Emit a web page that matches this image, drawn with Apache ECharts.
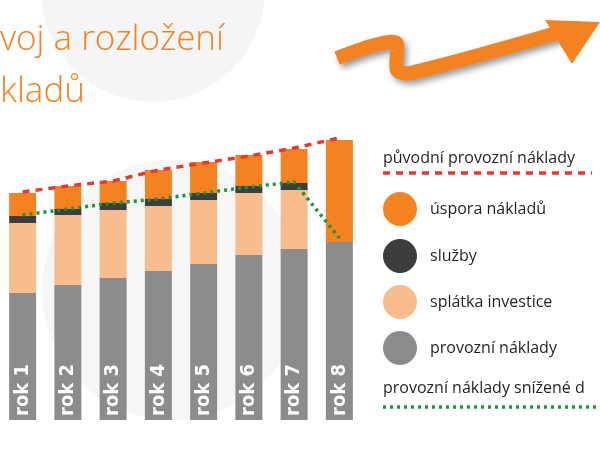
<!DOCTYPE html>
<html>
<head>
<meta charset="utf-8">
<script src="https://cdn.jsdelivr.net/npm/echarts@6/dist/echarts.min.js"></script>
<style>html,body{margin:0;padding:0;background:#fff}#graph1{width:600px;height:450px}</style>
</head>
<body>
<div id="graph1"></div>
<script>
const years = ['rok 1', 'rok 2', 'rok 3', 'rok 4', 'rok 5', 'rok 6', 'rok 7', 'rok 8'];
const provozni = [127, 135, 142, 149, 156, 165, 171, 178];
const splatka = [70, 70, 68, 65, 64, 62, 59, 0];
const sluzby = [7, 6, 7, 7, 7, 7, 7, 0];
const uspora = [23, 23, 22, 29, 31, 31, 34, 102];
const puvodni = [228, 234, 239, 250, 257, 264, 272, 282];
const snizene = [205, 211, 217, 221, 227, 233, 238, 182];

const legendItems = [
    ['úspora nákladů', '#f58220', 209],
    ['služby', '#3d3d3d', 256],
    ['splátka investice', '#f8bd8c', 302],
    ['provozní náklady', '#8c8c8f', 348],
];

function label(text, x, y, size, color, weight) {
    return {
        type: 'text', x: x, y: y,
        style: { text: text, fill: color, fontSize: size, fontFamily: 'Open Sans', fontWeight: weight || 'normal', verticalAlign: 'middle' },
    };
}

const graphics = [
    { type: 'circle', z: -10, shape: { cx: 153, cy: -10, r: 112 }, style: { fill: '#f5f5f5' } },
    { type: 'circle', z: -10, shape: { cx: 172, cy: 290, r: 130 }, style: { fill: '#f6f6f6' } },
    label('voj a rozložení', 0, 40, 35, '#f58220', 300),
    label('kladů', 0, 92, 35, '#f58220', 300),
    {
        type: 'polyline',
        shape: { points: [[337, 58], [395, 42], [397, 70], [410, 73], [560, 32]], smooth: 0.3 },
        style: { stroke: '#f58220', lineWidth: 14, fill: null, shadowBlur: 6, shadowColor: 'rgba(0,0,0,0.4)', shadowOffsetX: 3, shadowOffsetY: 4 },
    },
    { type: 'polygon', shape: { points: [[545, 20], [600, 22], [572, 64]] }, style: { fill: '#f58220' } },
    label('původní provozní náklady', 383, 158, 16, '#231f20'),
    { type: 'line', shape: { x1: 383, y1: 173, x2: 592, y2: 173 }, style: { stroke: '#e8392f', lineWidth: 3.5, lineDash: [7, 6] } },
    label('provozní náklady snížené d', 383, 388, 16, '#231f20'),
    { type: 'line', shape: { x1: 383, y1: 407, x2: 600, y2: 407 }, style: { stroke: '#1a9641', lineWidth: 3.5, lineDash: [3, 4] } },
];
legendItems.forEach(function (it) {
    graphics.push({ type: 'circle', shape: { cx: 400, cy: it[2], r: 17 }, style: { fill: it[1] } });
    graphics.push(label(it[0], 430, it[2], 16, '#231f20'));
});

const myChart1 = echarts.init(document.getElementById('graph1'));
const barBase = { type: 'bar', stack: 'Total', barWidth: 27 };
const option1 = {
    animation: false,
    graphic: graphics,
    grid: { left: -17, right: 238, top: 120, bottom: 30 },
    xAxis: {
        type: 'category',
        data: years,
        axisLine: { show: false },
        axisTick: { show: false },
        axisLabel: { show: false },
    },
    yAxis: { type: 'value', min: 0, max: 300, show: false },
    series: [
        Object.assign({}, barBase, {
            name: 'provozní náklady',
            data: provozni,
            itemStyle: { color: '#8c8c8f' },
            label: {
                show: true,
                position: 'insideBottom',
                rotate: 90,
                align: 'left',
                verticalAlign: 'middle',
                distance: 4,
                formatter: function (p) { return years[p.dataIndex]; },
                color: '#fff',
                fontFamily: 'DejaVu Sans Condensed',
                fontWeight: 'bold',
                fontSize: 20,
            },
        }),
        Object.assign({}, barBase, { name: 'splátka investice', data: splatka, itemStyle: { color: '#f8bd8c' } }),
        Object.assign({}, barBase, { name: 'služby', data: sluzby, itemStyle: { color: '#3d3d3d' } }),
        Object.assign({}, barBase, { name: 'úspora nákladů', data: uspora, itemStyle: { color: '#f58220' } }),
        {
            name: 'původní provozní náklady',
            type: 'line',
            data: puvodni,
            symbol: 'none',
            lineStyle: { color: '#e8392f', width: 3.5, type: [7, 6] },
        },
        {
            name: 'provozní náklady snížené',
            type: 'line',
            data: snizene,
            symbol: 'none',
            lineStyle: { color: '#1a9641', width: 3.5, type: [3, 4] },
        },
    ],
};
myChart1.setOption(option1);
window.addEventListener('resize', myChart1.resize);
</script>
</body>
</html>
